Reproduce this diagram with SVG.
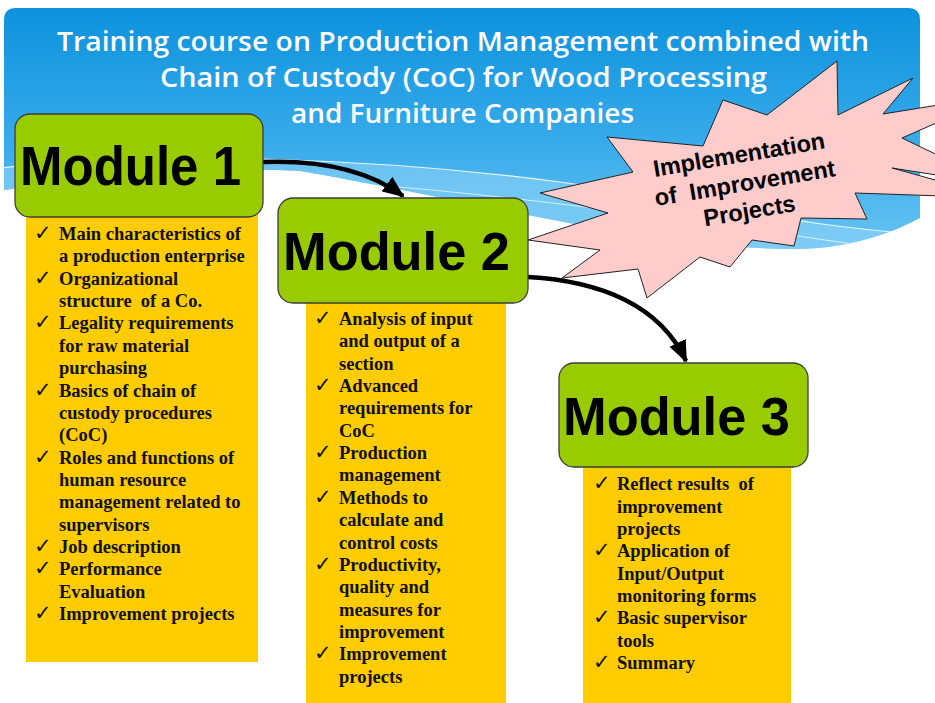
<svg xmlns="http://www.w3.org/2000/svg" width="935" height="703" viewBox="0 0 935 703">
  <defs>
    <linearGradient id="bg" x1="0" y1="0" x2="0" y2="1">
      <stop offset="0" stop-color="#0a90dc"/>
      <stop offset="0.55" stop-color="#38abea"/>
      <stop offset="1" stop-color="#6cc6f3"/>
    </linearGradient>
    <clipPath id="bannerClip">
      <path d="M16,8 H908 Q920,8 920,20 V218 C880,240 830,250 790,249 C650,248 470,200 300,171 C200,166 100,178 4,190 V20 Q4,8 16,8 Z"/>
    </clipPath>
    <marker id="head" markerUnits="userSpaceOnUse" markerWidth="22" markerHeight="18" viewBox="0 0 22 18" refX="20" refY="9" orient="auto">
      <path d="M0,0 L22,9 L0,18 Z" fill="#000"/>
    </marker>
    <style>
      .title { font-family: "Open Sans", "Liberation Sans", sans-serif; font-weight: 600; font-size: 27px; fill: #ffffff; }
      .mod { fill: #99cc00; stroke: #3c3c3c; stroke-width: 1.3; }
      .modtxt { font-family: "Liberation Sans", Arial, sans-serif; font-weight: bold; fill: #000; }
      .list { fill: #ffcc00; }
      .item { font-family: "Liberation Serif", "Times New Roman", serif; font-weight: bold; font-size: 18.5px; fill: #111; }
      .chk { font-family: "DejaVu Sans", sans-serif; font-weight: bold; font-size: 21px; fill: #111; }
      .star { fill: #ffcccc; stroke: #222; stroke-width: 1; }
      .startxt { font-family: "Liberation Sans", Arial, sans-serif; font-weight: bold; font-size: 23.5px; fill: #000; }
      .conn { fill: none; stroke: #000; stroke-width: 4.5; }
    </style>
  </defs>

  <!-- background banner -->
  <g id="banner">
    <g clip-path="url(#bannerClip)">
      <rect x="0" y="0" width="935" height="260" fill="url(#bg)"/>
      <path d="M0,168 C150,150 380,158 560,182 C700,200 800,228 935,235 L935,300 L0,300 Z" fill="#8fd4f8" opacity="0.55"/>
      <path d="M0,168 C150,150 380,158 560,182 C700,200 800,228 935,235" fill="none" stroke="#ffffff" stroke-width="1.2" opacity="0.85"/>
      <path d="M250,178 C450,185 650,215 860,245" fill="none" stroke="#ffffff" stroke-width="1" opacity="0.7"/>
      <path d="M760,205 C820,192 880,186 935,184" fill="none" stroke="#ffffff" stroke-width="1" opacity="0.7"/>
    </g>
    <text class="title" x="57" y="51" textLength="812" lengthAdjust="spacingAndGlyphs">Training course on Production Management combined with</text>
    <text class="title" x="160" y="87" textLength="607" lengthAdjust="spacingAndGlyphs">Chain of Custody (CoC) for Wood Processing</text>
    <text class="title" x="291" y="123" textLength="343" lengthAdjust="spacingAndGlyphs">and Furniture Companies</text>
  </g>

  <!-- starburst -->
  <g id="improvement">
    <polygon class="star" points="607,137 703,146 723,100 767,115 837,61 838,115 913,78 883,114 1000,95 902,138 1000,185 892,168 1000,198 855,193 867,219 801,218 794,246 752,240 730,267 700,257 647,298 638,269 562,278 600,250 528,240 608,213 540,193 633,172"/>
    <g transform="rotate(-9.5 746 190)">
      <text class="startxt" x="745" y="162" text-anchor="middle">Implementation</text>
      <text class="startxt" x="746" y="191" text-anchor="middle" xml:space="preserve">of  Improvement</text>
      <text class="startxt" x="746" y="219" text-anchor="middle">Projects</text>
    </g>
  </g>

  <!-- connectors -->
  <g id="connectors">
    <path class="conn" d="M263,162 C318,160 368,170 403,196" marker-end="url(#head)"/>
    <path class="conn" d="M528,277 C600,281 660,305 686,361" marker-end="url(#head)"/>
  </g>

  <!-- Module 1 -->
  <g id="module1">
    <rect class="list" x="26" y="210" width="232" height="452"/>
    <rect class="mod" x="15" y="114" width="248" height="103" rx="15"/>
    <text class="modtxt" x="20" y="185" font-size="56" textLength="221" lengthAdjust="spacingAndGlyphs">Module 1</text>
    <g>
      <text class="chk" x="34" y="240">✓</text>
      <text class="item" x="59" y="240">Main characteristics of</text>
      <text class="item" x="59" y="262.4">a production enterprise</text>
      <text class="chk" x="34" y="284.7">✓</text>
      <text class="item" x="59" y="284.7">Organizational</text>
      <text class="item" x="59" y="307" xml:space="preserve">structure  of a Co.</text>
      <text class="chk" x="34" y="329.4">✓</text>
      <text class="item" x="59" y="329.4">Legality requirements</text>
      <text class="item" x="59" y="351.8">for raw material</text>
      <text class="item" x="59" y="374">purchasing</text>
      <text class="chk" x="34" y="396.5">✓</text>
      <text class="item" x="59" y="396.5">Basics of chain of</text>
      <text class="item" x="59" y="418.8">custody procedures</text>
      <text class="item" x="59" y="441">(CoC)</text>
      <text class="chk" x="34" y="463.5">✓</text>
      <text class="item" x="59" y="463.5">Roles and functions of</text>
      <text class="item" x="59" y="485.9">human resource</text>
      <text class="item" x="59" y="508.2">management related to</text>
      <text class="item" x="59" y="530.6">supervisors</text>
      <text class="chk" x="34" y="553">✓</text>
      <text class="item" x="59" y="553">Job description</text>
      <text class="chk" x="34" y="575.3">✓</text>
      <text class="item" x="59" y="575.3">Performance</text>
      <text class="item" x="59" y="597.7">Evaluation</text>
      <text class="chk" x="34" y="620">✓</text>
      <text class="item" x="59" y="620">Improvement projects</text>
    </g>
  </g>

  <!-- Module 2 -->
  <g id="module2">
    <rect class="list" x="306" y="296" width="200" height="407"/>
    <rect class="mod" x="278" y="198" width="250" height="105" rx="15"/>
    <text class="modtxt" x="283" y="270" font-size="53" textLength="227" lengthAdjust="spacingAndGlyphs">Module 2</text>
    <g>
      <text class="chk" x="314" y="325">✓</text>
      <text class="item" x="339" y="325">Analysis of input</text>
      <text class="item" x="339" y="347.3">and output of a</text>
      <text class="item" x="339" y="369.6">section</text>
      <text class="chk" x="314" y="392">✓</text>
      <text class="item" x="339" y="392">Advanced</text>
      <text class="item" x="339" y="414.3">requirements for</text>
      <text class="item" x="339" y="436.6">CoC</text>
      <text class="chk" x="314" y="459">✓</text>
      <text class="item" x="339" y="459">Production</text>
      <text class="item" x="339" y="481.4">management</text>
      <text class="chk" x="314" y="503.8">✓</text>
      <text class="item" x="339" y="503.8">Methods to</text>
      <text class="item" x="339" y="526.1">calculate and</text>
      <text class="item" x="339" y="548.5">control costs</text>
      <text class="chk" x="314" y="570.8">✓</text>
      <text class="item" x="339" y="570.8">Productivity,</text>
      <text class="item" x="339" y="593.2">quality and</text>
      <text class="item" x="339" y="615.5">measures for</text>
      <text class="item" x="339" y="637.9">improvement</text>
      <text class="chk" x="314" y="660.2">✓</text>
      <text class="item" x="339" y="660.2">Improvement</text>
      <text class="item" x="339" y="682.5">projects</text>
    </g>
  </g>

  <!-- Module 3 -->
  <g id="module3">
    <rect class="list" x="583" y="460" width="208" height="243"/>
    <rect class="mod" x="559" y="363" width="249" height="104" rx="15"/>
    <text class="modtxt" x="563" y="435" font-size="53" textLength="227" lengthAdjust="spacingAndGlyphs">Module 3</text>
    <g>
      <text class="chk" x="593" y="490">✓</text>
      <text class="item" x="617" y="490" xml:space="preserve">Reflect results  of</text>
      <text class="item" x="617" y="512.5">improvement</text>
      <text class="item" x="617" y="535">projects</text>
      <text class="chk" x="593" y="557.3">✓</text>
      <text class="item" x="617" y="557.3">Application of</text>
      <text class="item" x="617" y="579.7">Input/Output</text>
      <text class="item" x="617" y="602">monitoring forms</text>
      <text class="chk" x="593" y="624.3">✓</text>
      <text class="item" x="617" y="624.3">Basic supervisor</text>
      <text class="item" x="617" y="646.7">tools</text>
      <text class="chk" x="593" y="669">✓</text>
      <text class="item" x="617" y="669">Summary</text>
    </g>
  </g>
</svg>
